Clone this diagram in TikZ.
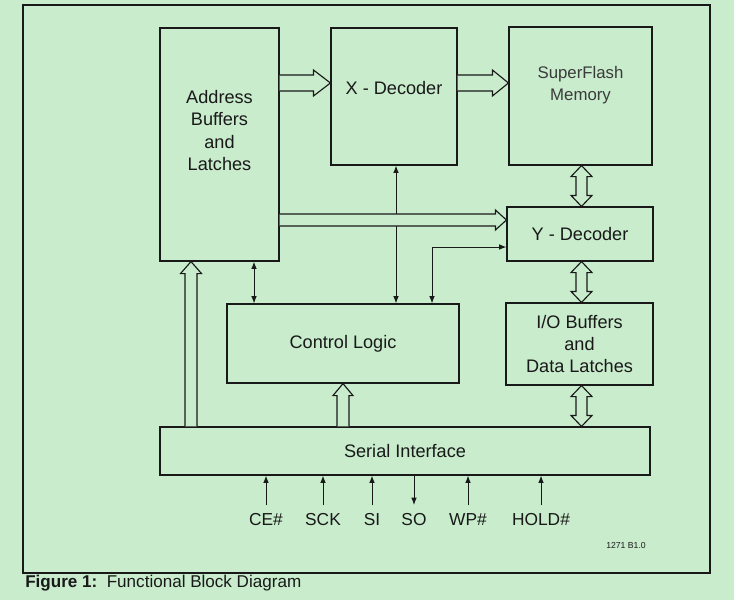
\documentclass[tikz,border=0pt]{standalone}
\usepackage{fontspec}
\setmainfont{Liberation Sans}
\usetikzlibrary{calc,arrows.meta}
\definecolor{bg}{RGB}{200,236,204}
\definecolor{ink}{RGB}{25,25,25}
\newcommand\fatH[5]{\draw[fat] ($(#1)+(0,-#3)$) -- ($(#2)+(-#5,-#3)$) -- ($(#2)+(-#5,-#4)$) -- (#2) -- ($(#2)+(-#5,#4)$) -- ($(#2)+(-#5,#3)$) -- ($(#1)+(0,#3)$);}
\newcommand\fatU[5]{\draw[fat] ($(#1)+(-#3,0)$) -- ($(#2)+(-#3,#5)$) -- ($(#2)+(-#4,#5)$) -- (#2) -- ($(#2)+(#4,#5)$) -- ($(#2)+(#3,#5)$) -- ($(#1)+(#3,0)$);}
\newcommand\fatD[5]{\draw[fat] (#1) -- ($(#1)+(#4,#5)$) -- ($(#1)+(#3,#5)$) -- ($(#2)+(#3,-#5)$) -- ($(#2)+(#4,-#5)$) -- (#2) -- ($(#2)+(-#4,-#5)$) -- ($(#2)+(-#3,-#5)$) -- ($(#1)+(-#3,#5)$) -- ($(#1)+(-#4,#5)$) -- cycle;}
\begin{document}
\begin{tikzpicture}[x=0.75pt,y=-0.75pt,
  box/.style={draw=ink,line width=0.85pt,inner sep=0pt,fill=none},
  lbl/.style={font=\fontsize{13.6}{16.7}\selectfont,align=center,inner sep=0pt,text=ink},
  pinlbl/.style={font=\fontsize{13}{14}\selectfont,inner sep=0pt,text=ink,anchor=base},
  fat/.style={draw=ink,line width=0.85pt,fill=bg,line join=miter},
  thinarr/.style={draw=ink,line width=0.75pt,-{Latex[length=5.5pt,width=4.2pt]}},
  thinboth/.style={draw=ink,line width=0.75pt,{Latex[length=5.5pt,width=4.2pt]}-{Latex[length=5.5pt,width=4.2pt]}}]
\fill[bg] (0,0) rectangle (734,600);
\useasboundingbox (0,0) rectangle (734,600);
\draw[ink,line width=1.1pt] (23,5) rectangle (710,573);
% blocks
\node[box,minimum width=89.25pt,minimum height=174.75pt] (addr) at (219.5,144.5) {};
\node[lbl] (addrt) at (219.5,130.5) {Address\\Buffers\\and\\Latches};
\node[box,minimum width=94.5pt,minimum height=102.75pt] (xdec) at (394,96.5) {};
\node[lbl] (xdect) at (394,88.5) {X - Decoder};
\node[box,minimum width=107.25pt,minimum height=103.5pt] (sf) at (580.5,96) {};
\node[lbl,font=\fontsize{12.6}{16.7}\selectfont,text=ink!85] (sft) at (580.5,85) {SuperFlash\\Memory};
\node[box,minimum width=109.5pt,minimum height=40.5pt,lbl] (ydec) at (580,234) {Y - Decoder};
\node[box,minimum width=110.25pt,minimum height=61.5pt,lbl] (io) at (579.5,344) {I/O Buffers\\and\\Data Latches};
\node[box,minimum width=174pt,minimum height=59.25pt,lbl] (ctrl) at (343,343.5) {Control Logic};
\node[box,minimum width=367.5pt,minimum height=36pt,lbl] (ser) at (405,451) {Serial Interface};
% thin connectors
\draw[thinboth] (396,0 |- xdec.south) -- (396,0 |- ctrl.north);
\draw[thinboth] (432,0 |- ctrl.north) -- (432,247) -- (ydec.west |- 0,247);
\draw[thinboth] (254,0 |- addr.south) -- (254,0 |- ctrl.north);
% fat arrows
\coordinate (a1s) at (addr.east |- 0,83);
\coordinate (a1t) at (xdec.west |- 0,83);
\fatH{a1s}{a1t}{8}{13}{17}
\coordinate (a2s) at (xdec.east |- 0,83);
\coordinate (a2t) at (sf.west |- 0,83);
\fatH{a2s}{a2t}{8}{13}{16}
\coordinate (a3s) at (addr.east |- 0,220);
\coordinate (a3t) at (ydec.west |- 0,220);
\fatH{a3s}{a3t}{6}{10}{11}
\coordinate (a4s) at (191,0 |- ser.north);
\coordinate (a4t) at (191,0 |- addr.south);
\fatU{a4s}{a4t}{6}{10.5}{12}
\coordinate (a5s) at (343,0 |- ser.north);
\coordinate (a5t) at (343,0 |- ctrl.south);
\fatU{a5s}{a5t}{6}{10}{12}
\coordinate (d1a) at (581.5,0 |- sf.south);
\coordinate (d1b) at (581.5,0 |- ydec.north);
\fatD{d1a}{d1b}{5.5}{10.5}{11}
\coordinate (d2a) at (581.5,0 |- ydec.south);
\coordinate (d2b) at (581.5,0 |- io.north);
\fatD{d2a}{d2b}{5.5}{10.5}{11}
\coordinate (d3a) at (581.5,0 |- io.south);
\coordinate (d3b) at (581.5,0 |- ser.north);
\fatD{d3a}{d3b}{5.5}{10.5}{11}
% pins
\node[pinlbl] (ce) at (266,525) {CE\#};
\node[pinlbl] (sck) at (323,525) {SCK};
\node[pinlbl] (si) at (372,525) {SI};
\node[pinlbl] (so) at (414,525) {SO};
\node[pinlbl] (wp) at (468,525) {WP\#};
\node[pinlbl] (hold) at (541,525) {HOLD\#};
\foreach \p in {ce,sck,si,wp,hold}
  \draw[thinarr] (\p.north |- 0,505) -- (\p.north |- ser.south);
\draw[thinarr] (so.north |- ser.south) -- (so.north |- 0,505);
\node[inner sep=0pt,font=\fontsize{6.5}{7}\selectfont,text=ink] (code) at (626,546) {1271 B1.0};
\node[inner sep=0pt,anchor=base west,font=\fontsize{12.8}{14}\selectfont,text=ink] (cap) at (25,587) {\textbf{Figure 1:}\ \ Functional Block Diagram};
\end{tikzpicture}
\end{document}
